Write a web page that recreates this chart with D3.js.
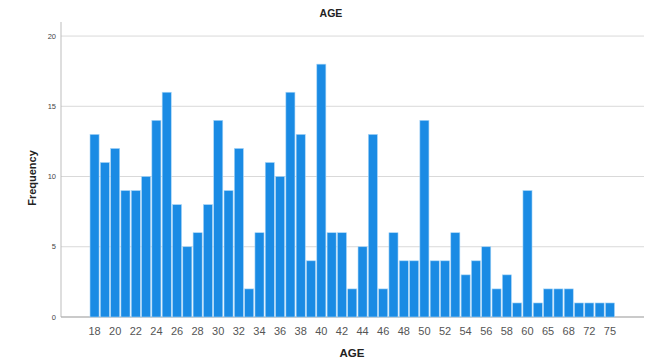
<!DOCTYPE html>
<html>
<head>
<meta charset="utf-8">
<script src="https://cdn.jsdelivr.net/npm/d3@7"></script>
<style>
  body { margin: 0; background: #fff; }
  svg { font-family: Arial, "Liberation Sans", sans-serif; }
</style>
</head>
<body>
<script>
// ages present in the data (some gaps after 60)
var ages = [18, 19, 20, 21, 22, 23, 24, 25, 26, 27, 28, 29, 30, 31, 32, 33, 34, 35, 36, 37, 38, 39,
  40, 41, 42, 43, 44, 45, 46, 47, 48, 49, 50, 51, 52, 53, 54, 55, 56, 57, 58, 59, 60,
  62, 65, 66, 68, 70, 72, 73, 75];
var freq = [13, 11, 12, 9, 9, 10, 14, 16, 8, 5, 6, 8, 14, 9, 12, 2, 6, 11, 10, 16, 13, 4,
  18, 6, 6, 2, 5, 13, 2, 6, 4, 4, 14, 4, 4, 6, 3, 4, 5, 2, 3, 1, 9,
  1, 2, 2, 2, 1, 1, 1, 1];
var yTicks = [0, 5, 10, 15, 20];
// only every other category gets a label
var shownLabels = [18, 20, 22, 24, 26, 28, 30, 32, 34, 36, 38, 40, 42, 44, 46, 48, 50, 52, 54, 56, 58, 60, 65, 68, 72, 75];

var W = 653, H = 362;
var svg = d3.select("body").append("svg").attr("width", W).attr("height", H);

var x = d3.scaleBand()
  .domain(ages)
  .range([89.5, 615])
  .paddingInner(0.12)
  .paddingOuter(0.05);

var y = d3.scaleLinear().domain([0, 21]).range([317, 22]);

// gridlines
svg.append("g").selectAll("line")
  .data(yTicks)
  .enter().append("line")
  .attr("x1", 61).attr("x2", 644)
  .attr("y1", function (d) { return y(d); })
  .attr("y2", function (d) { return y(d); })
  .attr("stroke", "#d9d9d9")
  .attr("stroke-width", 1);

// y axis line
svg.append("line")
  .attr("x1", 61).attr("x2", 61)
  .attr("y1", 22).attr("y2", y(0))
  .attr("stroke", "#bdbdbd");

// baseline
svg.append("line")
  .attr("x1", 61).attr("x2", 644)
  .attr("y1", y(0)).attr("y2", y(0))
  .attr("stroke", "#a8a8a8");

svg.append("g").selectAll("text")
  .data(yTicks)
  .enter().append("text")
  .attr("x", 56)
  .attr("y", function (d) { return y(d) + 2.5; })
  .attr("text-anchor", "end")
  .attr("font-size", 7.5)
  .attr("fill", "#444")
  .text(function (d) { return d; });

// bars
svg.append("g").selectAll("rect")
  .data(ages)
  .enter().append("rect")
  .attr("x", function (d) { return x(d); })
  .attr("y", function (d, i) { return y(freq[i]); })
  .attr("width", x.bandwidth())
  .attr("height", function (d, i) { return y(0) - y(freq[i]); })
  .attr("fill", "#1a8be4")
  .attr("stroke", "#a9d6f7")
  .attr("stroke-width", 0.6);

// x tick labels
svg.append("g").selectAll("text")
  .data(shownLabels)
  .enter().append("text")
  .attr("x", function (d) { return x(d) + x.bandwidth() / 2; })
  .attr("y", 335)
  .attr("text-anchor", "middle")
  .attr("font-size", 11)
  .attr("fill", "#555")
  .text(function (d) { return d; });

svg.append("text")
  .attr("x", 331).attr("y", 17)
  .attr("text-anchor", "middle")
  .attr("font-size", 10.5)
  .attr("font-weight", "bold")
  .attr("fill", "#222")
  .text("AGE");

svg.append("text")
  .attr("x", 352).attr("y", 357)
  .attr("text-anchor", "middle")
  .attr("font-size", 11.5)
  .attr("font-weight", "bold")
  .attr("fill", "#222")
  .text("AGE");

svg.append("text")
  .attr("transform", "translate(36,178) rotate(-90)")
  .attr("text-anchor", "middle")
  .attr("font-size", 11)
  .attr("font-weight", "bold")
  .attr("fill", "#222")
  .text("Frequency");
</script>
</body>
</html>
